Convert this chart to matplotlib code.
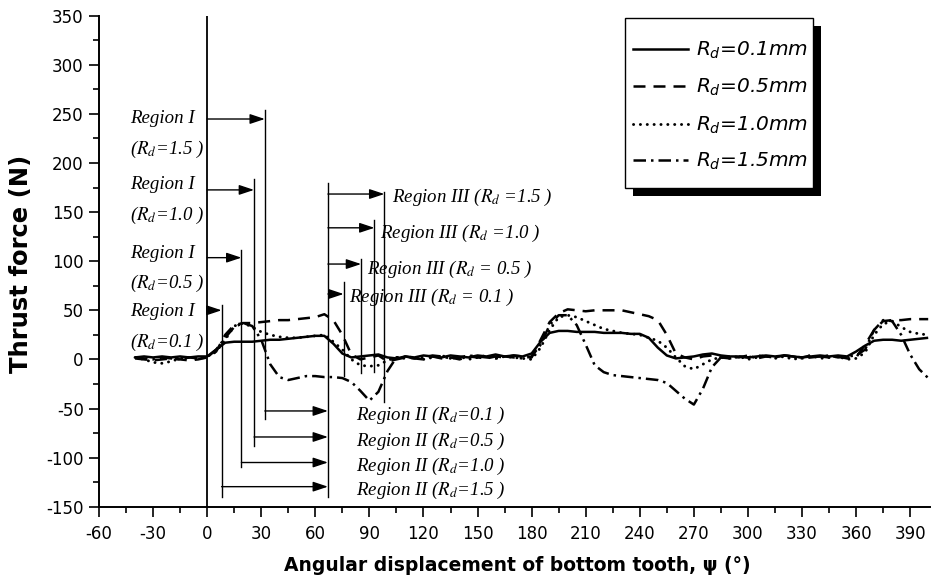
import matplotlib
matplotlib.use("Agg")
import matplotlib.pyplot as plt
from matplotlib.patches import Rectangle
from matplotlib.lines import Line2D

plt.rcParams['font.family'] = ['DejaVu Sans']
plt.rcParams['axes.unicode_minus'] = False

# ---------------- data ----------------
angle = list(range(-40, 401, 5))

thrust_rd01 = [2, 3, 2, 3, 2, 3, 2, 3, 3, 10, 17, 18, 18, 18, 19, 20, 20, 21, 22, 23,
               24, 24, 16, 6, 2, 3, 4, 5, 2, 1, 3, 2, 4, 3, 2, 4, 3, 2, 4, 3,
               5, 3, 4, 3, 6, 18, 27, 29, 29, 28, 28, 28, 27, 27, 27, 26, 26, 22, 12, 4,
               1, 2, 3, 5, 6, 4, 3, 3, 2, 3, 4, 3, 4, 3, 2, 3, 4, 3, 4, 3,
               8, 14, 19, 20, 20, 19, 20, 21, 22]

thrust_rd05 = [1, 0, -1, 0, 1, 0, -1, 0, 2, 8, 25, 35, 37, 37, 38, 39, 40, 40, 41, 42,
               43, 46, 40, 25, 5, 0, 2, 4, -2, 0, 2, 1, 0, 3, 1, 2, 0, 3, 2, 1,
               3, 2, 4, 3, 2, 20, 38, 47, 51, 50, 49, 50, 50, 50, 50, 48, 46, 44, 40, 25,
               6, 2, 0, 3, 4, 2, 1, 3, 2, 4, 3, 2, 4, 3, 2, 4, 3, 2, 3, 1,
               2, 15, 30, 39, 40, 40, 41, 41, 41]

thrust_rd10 = [2, 0, -3, -4, -2, 1, 2, 1, 3, 8, 20, 34, 37, 33, 28, 25, 23, 22, 22, 23,
               24, 25, 18, 10, 0, -6, -7, -6, -1, 2, 1, 3, 0, 2, 4, 1, 3, 0, 2, 4,
               1, 3, 2, 1, 0, 12, 30, 43, 45, 43, 39, 35, 31, 29, 27, 26, 25, 22, 19, 12,
               2, -7, -10, -5, 0, 2, 1, 3, 0, 2, 4, 1, 3, 0, 2, 4, 1, 2, 3, 0,
               1, 7, 25, 36, 39, 33, 28, 26, 25]

thrust_rd15 = [2, 1, 0, 2, 1, 0, 2, 1, 2, 10, 22, 33, 37, 34, 20, -5, -18, -21, -19, -17,
               -17, -18, -18, -19, -23, -32, -42, -33, -12, 2, 3, 1, 2, 4, 3, 1, 2, 4, 3, 2,
               1, 3, 2, 1, 3, 15, 35, 45, 45, 35, 15, -6, -13, -16, -17, -18, -19, -20, -21, -24,
               -32, -40, -46, -30, -8, 2, 3, 2, 4, 1, 3, 2, 4, 3, 1, 2, 3, 4, 2, 3,
               4, 10, 30, 40, 39, 25, 5, -10, -19]

legend_labels = ['$R_d$=0.1mm', '$R_d$=0.5mm', '$R_d$=1.0mm', '$R_d$=1.5mm']
x_ticks = list(range(-60, 391, 30))
y_ticks = list(range(-150, 351, 50))

# annotation geometry (data units)
region1_ends = [8, 19, 26, 32]            # Rd = 0.1, 0.5, 1.0, 1.5
region1_arrow_y = [50, 103.6, 172.6, 244.8]
region1_line_top = [55.4, 111, 183.7, 254]
region1_line_bottom = [-140, -110, -88, -61]
region_rd = ['0.1', '0.5', '1.0', '1.5']
region1_text_y1 = [43.7, 103, 173.3, 240.4]
region1_text_y2 = [13.1, 72.5, 142.2, 208.9]

region2_start = [32, 26, 19, 8]           # Rd = 0.1, 0.5, 1.0, 1.5
region2_arrow_y = [-52.5, -79, -105, -129.6]
region2_text_y = [-61.7, -88.4, -113.6, -138]
region2_end = 67

region3_ends = [75.7, 85.4, 92.8, 98.3]   # Rd = 0.1, 0.5, 1.0, 1.5
region3_arrow_y = [66.6, 97.1, 134, 168.4]
region3_line_top = [79, 102, 142, 170.8]
region3_line_bottom = [-17, -14, -12.5, -43]
region3_text_x = [78.5, 88.7, 96.1, 102.6]
region3_text_y = [58.8, 87, 123.3, 160]
region3_labels = ['Region III ($R_d$ = 0.1 )', 'Region III ($R_d$ = 0.5 )',
                  'Region III ($R_d$ =1.0 )', 'Region III ($R_d$ =1.5 )']

# ---------------- figure ----------------
W, H = 931, 585
fig = plt.figure(figsize=(W / 100, H / 100), dpi=100)
AX_L, AX_R, AX_T, AX_B = 99, 930, 15.7, 506.7
ax = fig.add_axes([AX_L / W, 1 - AX_B / H, (AX_R - AX_L) / W, (AX_B - AX_T) / H])


def px2ax(px, py):
    return ((px - AX_L) / (AX_R - AX_L), (AX_B - py) / (AX_B - AX_T))


lw = 1.8
styles = ['-', (0, (4.8, 3.2)), (0, (0.05, 2.3)), (0, (5, 2, 1, 2))]
caps = ['butt', 'butt', 'round', 'butt']
series = [thrust_rd01, thrust_rd05, thrust_rd10, thrust_rd15]
for s, ls, cs in zip(series, styles, caps):
    ax.plot(angle, s, color='black', lw=lw if cs == 'butt' else 2.1,
            linestyle=ls, dash_capstyle=cs, solid_capstyle='butt')

ax.set_xlim(-60, 401)
ax.set_ylim(-150, 350)
ax.set_xticks(x_ticks)
ax.set_xticks(range(-45, 401, 30), minor=True)
ax.set_yticks(y_ticks)
ax.set_yticks(range(-125, 351, 50), minor=True)
ax.tick_params(which='major', direction='out', length=7.5, width=1.2, labelsize=12)
ax.tick_params(which='minor', direction='out', length=4, width=1.2)
ax.tick_params(axis='x', which='major', pad=5.5)
for sp in ['top', 'right']:
    ax.spines[sp].set_visible(False)
for sp in ['left', 'bottom']:
    ax.spines[sp].set_linewidth(1.4)

ax.set_xlabel('Angular displacement of bottom tooth, ψ (°)', fontsize=13.5, fontweight='bold')
ax.set_ylabel('Thrust force (N)', fontsize=17.5, fontweight='bold')
ax.xaxis.set_label_coords(0.503, -0.100)
ax.yaxis.set_label_coords(-0.079, 0.495)

# ---------------- annotations ----------------
alw = 1.0
akw = dict(arrowstyle='-|>,head_length=0.9,head_width=0.3', color='black', lw=alw,
           shrinkA=0, shrinkB=0)
tkw = dict(family='Liberation Serif', style='italic', fontsize=13.6, math_fontfamily='stix')

ax.plot([0, 0], [-150, 350], color='black', lw=1.3)
ax.plot([region2_end, region2_end], [-140, 179.6], color='black', lw=alw)

for xe, ya, yt, yb, rd, t1, t2 in zip(region1_ends, region1_arrow_y, region1_line_top,
                                     region1_line_bottom, region_rd,
                                     region1_text_y1, region1_text_y2):
    ax.plot([xe, xe], [yb, yt], color='black', lw=alw)
    ax.annotate('', xy=(xe, ya), xytext=(0, ya), arrowprops=akw)
    ax.text(-43, t1, 'Region I', va='baseline', ha='left', **tkw)
    ax.text(-43, t2, '($R_d$=' + rd + ' )', va='baseline', ha='left', **tkw)

for xs, ya, ty, rd in zip(region2_start, region2_arrow_y, region2_text_y, region_rd):
    ax.annotate('', xy=(region2_end, ya), xytext=(xs, ya), arrowprops=akw)
    ax.text(82.8, ty, 'Region II ($R_d$=' + rd + ' )', va='baseline', ha='left', **tkw)

for xe, ya, yt, yb, tx, ty, lab in zip(region3_ends, region3_arrow_y, region3_line_top,
                                      region3_line_bottom, region3_text_x,
                                      region3_text_y, region3_labels):
    ax.plot([xe, xe], [yb, yt], color='black', lw=alw)
    ax.annotate('', xy=(xe, ya), xytext=(region2_end, ya), arrowprops=akw)
    ax.text(tx, ty, lab, va='baseline', ha='left', **tkw)

# ---------------- legend (boxed, with solid black shadow) ----------------
fx0, fy0 = px2ax(625, 188.3)
fx1, fy1 = px2ax(813, 18.3)
sx0, sy0 = px2ax(633, 196.3)
ax.add_patch(Rectangle((sx0, sy0), fx1 - fx0, fy1 - fy0, transform=ax.transAxes,
                       facecolor='black', edgecolor='none', zorder=6, clip_on=False))
ax.add_patch(Rectangle((fx0, fy0), fx1 - fx0, fy1 - fy0, transform=ax.transAxes,
                       facecolor='white', edgecolor='black', lw=1.0, zorder=7,
                       clip_on=False))
row_y = [49.3, 86.0, 124.3, 160.0]
for ry, ls, cs, lab in zip(row_y, styles, caps, legend_labels):
    hx0, hy = px2ax(633, ry)
    hx1, _ = px2ax(688, ry)
    ax.add_line(Line2D([hx0, hx1], [hy, hy], transform=ax.transAxes, color='black',
                       lw=lw if cs == 'butt' else 2.1, linestyle=ls, dash_capstyle=cs,
                       zorder=8, clip_on=False))
    tx, ty = px2ax(696, ry + 6.4)
    ax.text(tx, ty, lab, transform=ax.transAxes, fontsize=14.5, style='italic',
            math_fontfamily='dejavusans', va='baseline', ha='left', zorder=8)

fig.savefig('out.png', dpi=100)
